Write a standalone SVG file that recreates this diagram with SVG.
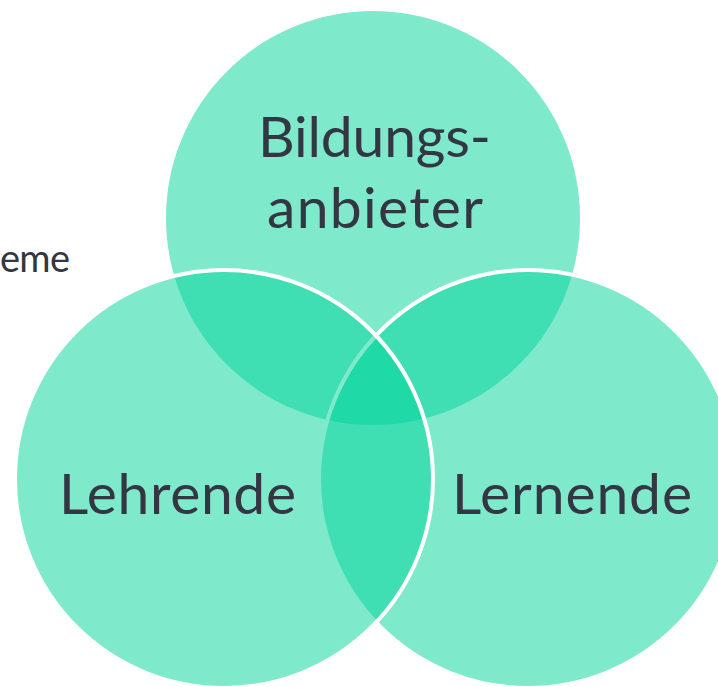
<svg xmlns="http://www.w3.org/2000/svg" width="718" height="687" viewBox="0 0 718 687">
<style>
.c{fill:#00D49A;fill-opacity:0.5;stroke:#FFFFFF;stroke-width:4}
.t{font-family:Lato,"Open Sans",sans-serif;font-size:57px;fill:#333643;text-anchor:middle}
.s{font-family:Lato,"Open Sans",sans-serif;font-size:38px;fill:#333643;text-anchor:end}
</style>
<rect width="718" height="687" fill="#FFFFFF"/>
<text class="s" x="70" y="272" textLength="70">eme</text>
<g id="bildungsanbieter">
<circle class="c" cx="373" cy="218" r="209"/>
</g>
<g id="lernende">
<circle class="c" cx="528" cy="479" r="209"/>
</g>
<g id="lehrende">
<circle class="c" cx="224" cy="479" r="209"/>
</g>
<g id="labels">
<text class="t" x="374.5" y="157" textLength="233">Bildungs-</text>
<text class="t" x="375" y="228" textLength="216">anbieter</text>
<text class="t" x="177.5" y="514" textLength="237">Lehrende</text>
<text class="t" x="572" y="514" textLength="240">Lernende</text>
</g>
<g id="connectors"></g>
</svg>
